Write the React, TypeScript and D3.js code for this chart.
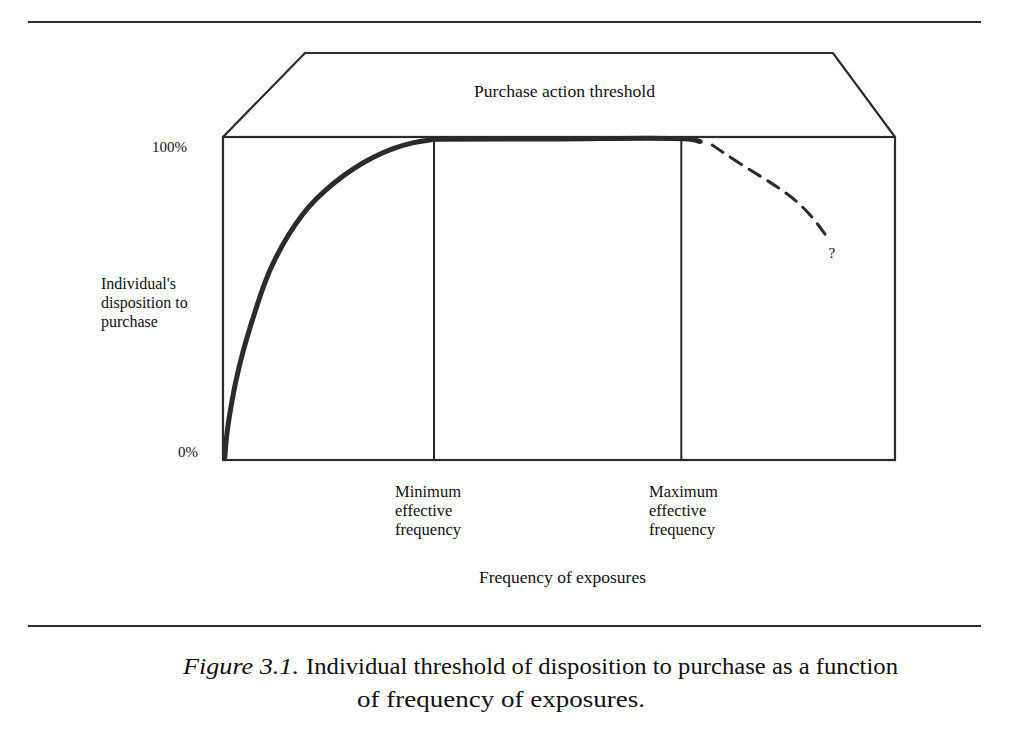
import React from "react";
import * as d3 from "d3";

// Frequency of exposures (0..100 scale) vs disposition to purchase (0..100%)
const riseX = [0.1, 0.3, 0.4, 0.9, 1.8, 3.0, 4.5, 6.25, 7.7, 9.7, 11.7, 13.9, 16.4, 19.4, 22.4, 25.3, 28.3, 30.8, 31.8];
const riseY = [0, 0.6, 5.3, 13.3, 23.8, 34.1, 44.3, 55.4, 62.2, 69.7, 75.9, 81.0, 85.7, 90.3, 93.9, 96.5, 98.4, 99.1, 99.3];
const plateauX = [31.8, 50, 69.5, 71.0];
const plateauY = [99.3, 99.4, 99.3, 98.6];
const declineX = [72.8, 76.5, 80.4, 83.9, 87.2, 89.9];
const declineY = [97.5, 92.3, 87.3, 82.7, 76.8, 69.0];
const thresholdLines = [31.4, 68.2];
const yTickLabels = ["0%", "100%"];
const yTickValues = [0, 100];
const thresholdLabels = [
  ["Minimum", "effective", "frequency"],
  ["Maximum", "effective", "frequency"],
];
const yAxisTitle = ["Individual's", "disposition to", "purchase"];
const xAxisTitle = "Frequency of exposures";
const roofLabel = "Purchase action threshold";
const captionItalic = "Figure 3.1.";
const captionLine1 = "Individual threshold of disposition to purchase as a function";
const captionLine2 = "of frequency of exposures.";

const W = 1009;
const H = 733;
const box = { left: 223, right: 895, top: 137, bottom: 460 };
const ink = "#2b2b2b";
const font = "'Liberation Serif', 'Times New Roman', serif";

export default function App() {
  const x = d3.scaleLinear().domain([0, 100]).range([box.left, box.right]);
  const y = d3.scaleLinear().domain([0, 100]).range([box.bottom, box.top]);
  const mk = (xs: number[], ys: number[]) => xs.map((v, i) => [v, ys[i]] as [number, number]);
  const base = d3
    .line<[number, number]>()
    .x((d) => x(d[0]))
    .y((d) => y(d[1]));
  const rise = base.curve(d3.curveBasis)(mk(riseX, riseY));
  const plateau = base.curve(d3.curveCatmullRom.alpha(0.5))(mk(plateauX, plateauY));
  const decline = base.curve(d3.curveBasis)(mk(declineX, declineY));

  const roof = `M${box.left},${box.top} L305,53 L833,53 L${box.right},${box.top}`;

  return (
    <svg
      width={W}
      height={H}
      style={{ position: "absolute", left: 0, top: 0, background: "#fff" }}
      fontFamily={font}
    >
      <rect x={0} y={0} width={W} height={H} fill="#fff" />
      {/* page rules */}
      <line x1={28} x2={981} y1={22} y2={22} stroke={ink} strokeWidth={2} />
      <line x1={28} x2={981} y1={626} y2={626} stroke={ink} strokeWidth={2} />

      {/* roof */}
      <path d={roof} fill="none" stroke={ink} strokeWidth={2.2} strokeLinejoin="miter" />
      <text x={474} y={97} fontSize={16} textLength={181} lengthAdjust="spacingAndGlyphs" fill="#111">
        {roofLabel}
      </text>

      {/* box */}
      <rect
        x={box.left}
        y={box.top}
        width={box.right - box.left}
        height={box.bottom - box.top}
        fill="none"
        stroke={ink}
        strokeWidth={2.2}
      />
      {thresholdLines.map((t, i) => (
        <line key={i} x1={x(t)} x2={x(t)} y1={box.top} y2={box.bottom} stroke={ink} strokeWidth={2} />
      ))}

      {/* curves */}
      <path d={rise ?? ""} fill="none" stroke={ink} strokeWidth={5} strokeLinecap="butt" />
      <path d={plateau ?? ""} fill="none" stroke={ink} strokeWidth={5} strokeLinecap="round" />
      <path d={decline ?? ""} fill="none" stroke={ink} strokeWidth={3} strokeDasharray="13 9" strokeLinecap="round" />
      <text x={x(90.6)} y={y(62.5)} fontSize={15} textAnchor="middle" fill="#111">
        ?
      </text>

      {/* y tick labels */}
      {yTickValues.map((v, i) => (
        <text key={i} x={v === 0 ? 198 : 187} y={y(v) + (v === 0 ? -3 : 15)} fontSize={15} textAnchor="end" fill="#111">
          {yTickLabels[i]}
        </text>
      ))}

      {/* y axis title */}
      {yAxisTitle.map((s, i) => (
        <text key={i} x={101} y={289 + i * 19} fontSize={16} fill="#111">
          {s}
        </text>
      ))}

      {/* threshold labels */}
      {thresholdLabels.map((lines, j) =>
        lines.map((s, i) => (
          <text key={`${j}-${i}`} x={j === 0 ? 395 : 649} y={497 + i * 19} fontSize={16.5} fill="#111">
            {s}
          </text>
        ))
      )}

      <text x={479} y={583} fontSize={16.5} textLength={167} lengthAdjust="spacingAndGlyphs" fill="#111">
        {xAxisTitle}
      </text>

      {/* caption */}
      <text x={183} y={674} fontSize={24} fill="#111">
        <tspan fontStyle="italic" textLength={116} lengthAdjust="spacingAndGlyphs">{captionItalic}</tspan>
        <tspan x={306} textLength={592} lengthAdjust="spacingAndGlyphs">{captionLine1}</tspan>
      </text>
      <text x={357} y={707} fontSize={24} textLength={288} lengthAdjust="spacingAndGlyphs" fill="#111">
        {captionLine2}
      </text>
    </svg>
  );
}
